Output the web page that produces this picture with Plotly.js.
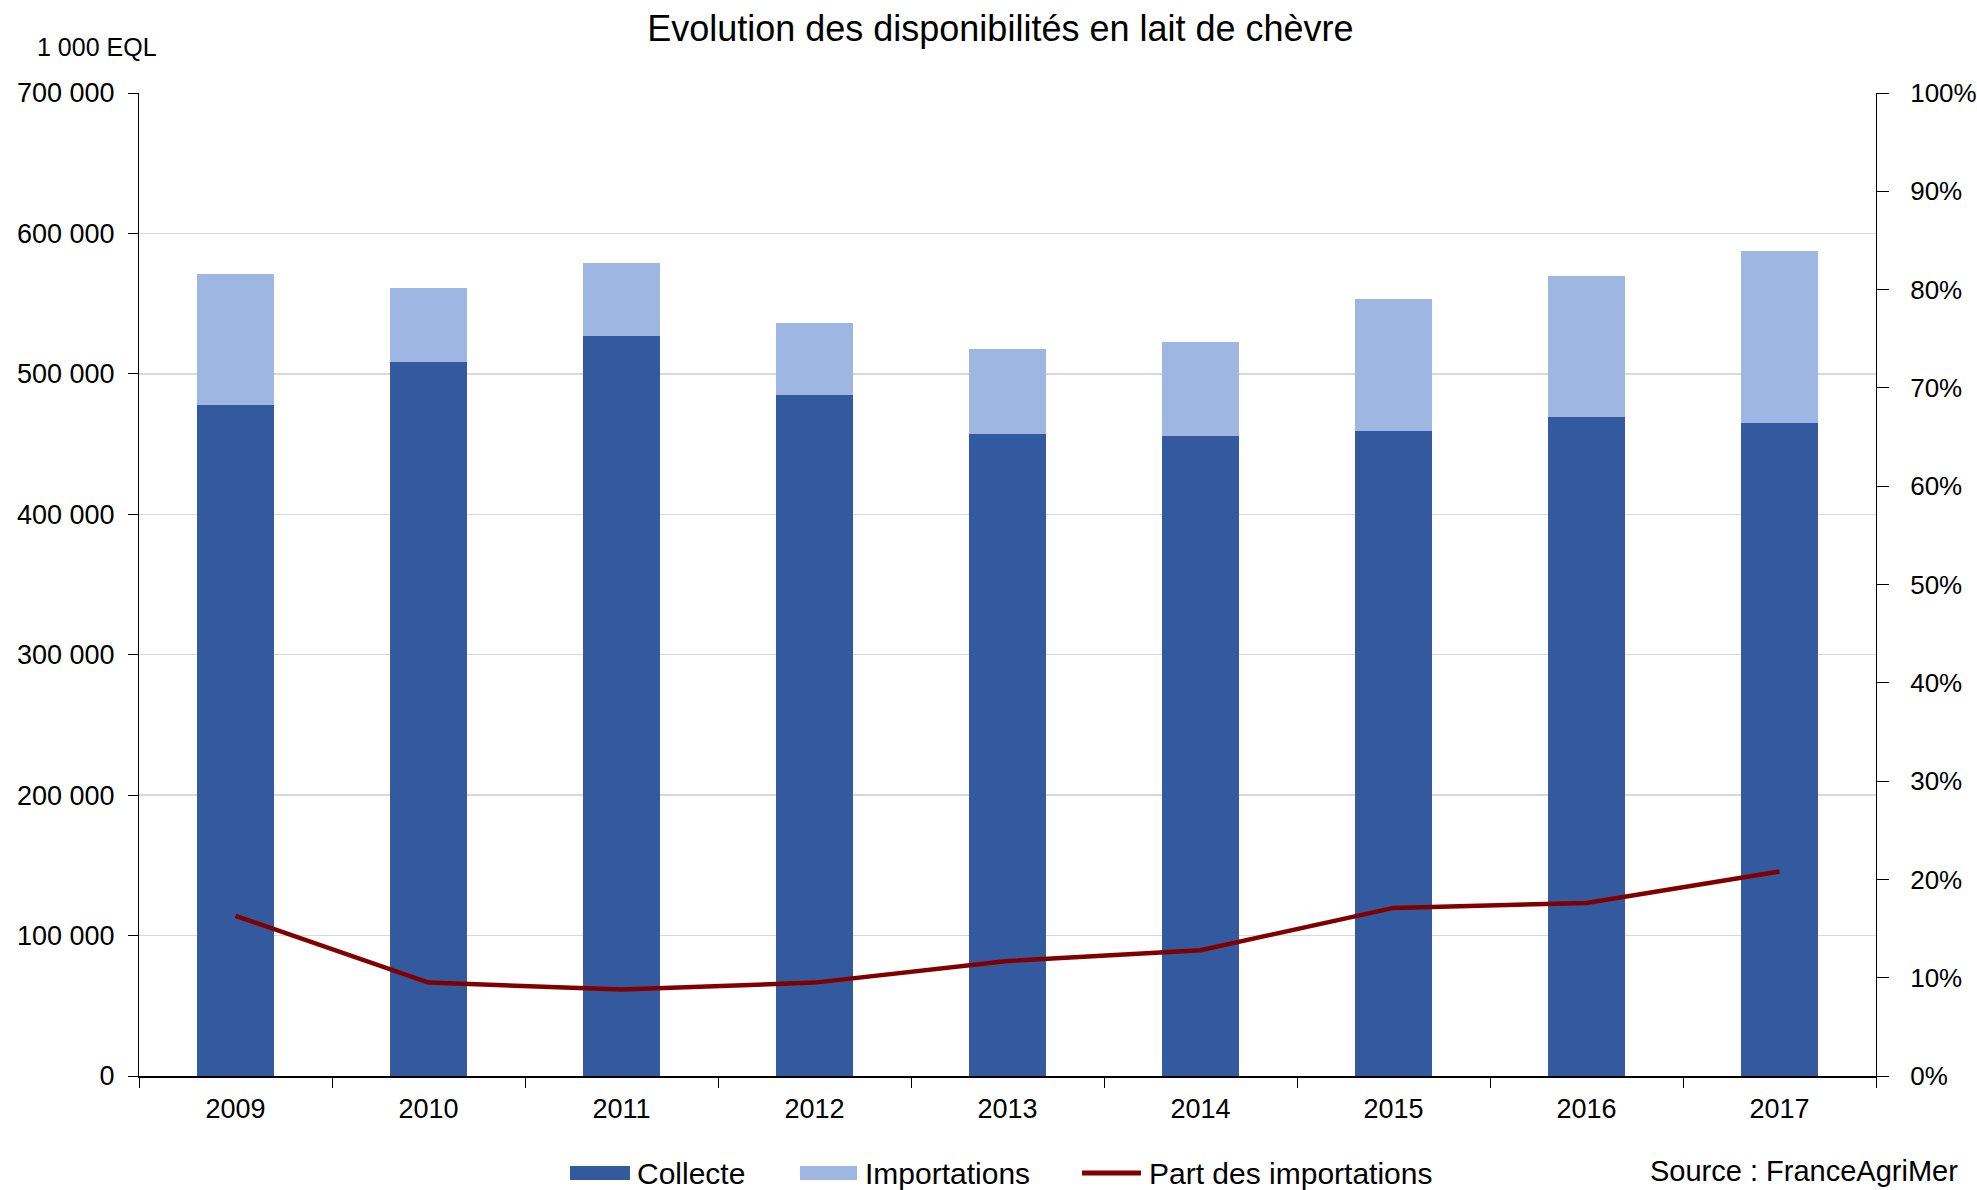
<!DOCTYPE html>
<html>
<head>
<meta charset="utf-8">
<script src="https://cdn.plot.ly/plotly-3.0.1.min.js"></script>
<style>html,body{margin:0;padding:0;background:#fff;overflow:hidden}#chart{width:1977px;height:1190px}</style>
</head>
<body>
<div id="chart"></div>
<script>
const years = ['2009','2010','2011','2012','2013','2014','2015','2016','2017'];
const collecte = [478000, 508500, 527000, 485000, 457000, 456000, 459000, 469000, 465000];
const importations = [93000, 52500, 51600, 51000, 60500, 67000, 94000, 100600, 122600];
const partImportations = [0.163, 0.095, 0.088, 0.095, 0.117, 0.128, 0.171, 0.176, 0.208];
const seriesNames = ['Collecte', 'Importations', 'Part des importations'];
const seriesColors = ['#335A9E', '#9EB6E2', '#800000'];

const FONT = 'Liberation Sans, Arial, sans-serif';

const traces = [
  {type:'bar', name:seriesNames[0], x:years, y:collecte, marker:{color:seriesColors[0]}, yaxis:'y'},
  {type:'bar', name:seriesNames[1], x:years, y:importations, marker:{color:seriesColors[1]}, yaxis:'y'},
  {type:'scatter', mode:'lines', name:seriesNames[2], x:years, y:partImportations,
   line:{color:seriesColors[2], width:4.5}, yaxis:'y2'}
];

// custom legend (pixel positions converted to paper coords)
const L = 139, R = 1876, T = 93, B = 1076;
const px = v => (v - L) / (R - L);
const py = v => (B - v) / (B - T);
const legY = 1173;
const shapes = [
  {type:'rect', xref:'paper', yref:'paper', x0:px(570), x1:px(630), y0:py(1180), y1:py(1166), fillcolor:seriesColors[0], line:{width:0}},
  {type:'rect', xref:'paper', yref:'paper', x0:px(800), x1:px(857), y0:py(1180), y1:py(1166), fillcolor:seriesColors[1], line:{width:0}},
  {type:'line', xref:'paper', yref:'paper', x0:px(1082), x1:px(1141), y0:py(legY), y1:py(legY), line:{color:seriesColors[2], width:5}}
];
const legTextX = [635, 863, 1147];

const annotations = [
  {text:'1 000 EQL', xref:'paper', yref:'paper', x:px(35), y:py(47), xanchor:'left', yanchor:'middle',
   showarrow:false, font:{size:25}},
  {text:'Source : FranceAgriMer', xref:'paper', yref:'paper', x:px(1648), y:py(1189), xanchor:'left', yanchor:'bottom',
   showarrow:false, font:{size:29}}
];
seriesNames.forEach((n, i) => annotations.push({
  text:n, xref:'paper', yref:'paper', x:px(legTextX[i]), y:py(legY), xanchor:'left', yanchor:'middle',
  showarrow:false, font:{size:30}
}));

const layout = {
  width:1977, height:1190,
  paper_bgcolor:'#fff', plot_bgcolor:'#fff',
  separators:', ',
  font:{family:FONT, size:27, color:'#000'},
  margin:{l:L, r:1977 - R, t:T, b:1190 - B, autoexpand:false},
  barmode:'stack', bargap:0.6,
  showlegend:false,
  title:{text:'Evolution des disponibilités en lait de chèvre', font:{family:FONT, size:36, color:'#000'},
         x:0.506, xref:'container', xanchor:'center', y:0.976, yref:'container', yanchor:'middle'},
  xaxis:{type:'category', showline:true, linecolor:'#000', linewidth:2, ticks:'outside', tickson:'boundaries',
         ticklen:10, tickcolor:'#000', showgrid:false, tickfont:{size:27}, zeroline:false, ticklabelstandoff:8},
  yaxis:{range:[0,700000], dtick:100000, tickformat:',d', showline:true, linecolor:'#000', linewidth:1,
         ticks:'outside', ticklen:10, tickcolor:'#000', gridcolor:'#d9d9d9', gridwidth:1.5, zeroline:false,
         tickfont:{size:27}, ticklabelstandoff:8},
  yaxis2:{range:[0,1], dtick:0.1, tickformat:'.0%', overlaying:'y', side:'right', showline:true,
          linecolor:'#000', linewidth:1, ticks:'outside', ticklen:12, tickcolor:'#000', showgrid:false,
          zeroline:false, tickfont:{size:26}, ticklabelstandoff:16},
  shapes:shapes,
  annotations:annotations
};

Plotly.newPlot('chart', traces, layout, {displayModeBar:false, staticPlot:true});
</script>
</body>
</html>
